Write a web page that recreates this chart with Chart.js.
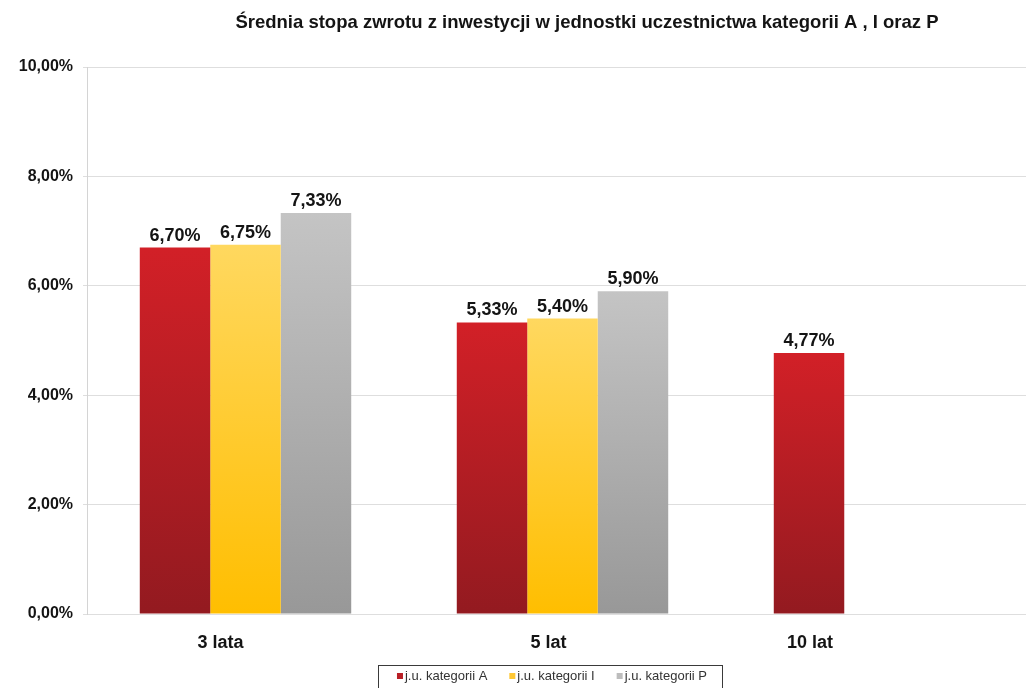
<!DOCTYPE html>
<html>
<head>
<meta charset="utf-8">
<script src="https://cdn.jsdelivr.net/npm/chart.js@4/dist/chart.umd.min.js"></script>
<style>
  html, body { margin: 0; padding: 0; background: #fff; overflow: hidden; }
  #wrap { width: 1026px; height: 688px; overflow: hidden; }
</style>
</head>
<body>
<div id="wrap"><canvas id="chart1" width="1038" height="688"></canvas></div>
<script>
// Average return per period, in percent
const categories = ['3 lata', '5 lat', '10 lat'];
const seriesA = [6.70, 5.33, 4.77];
const seriesI = [6.75, 5.40, null];
const seriesP = [7.33, 5.90, null];
const seriesNames = ['j.u. kategorii A', 'j.u. kategorii I', 'j.u. kategorii P'];
const yTickValues = [0, 2, 4, 6, 8, 10];

const title = 'Średnia stopa zwrotu z inwestycji w jednostki uczestnictwa kategorii A , I oraz P';
const FONT = '"Liberation Sans", Arial, sans-serif';

const pct = v => v.toFixed(2).replace('.', ',') + '%';

// vertical gradient per bar, light at the top, dark at the base
function barFill(top, bottom) {
  return function (c) {
    const chart = c.chart;
    const y = chart.scales && chart.scales.y;
    if (!chart.chartArea || !y || c.raw == null) return bottom;
    const yTop = y.getPixelForValue(c.raw);
    const yBase = y.getPixelForValue(0);
    const g = chart.ctx.createLinearGradient(0, yTop, 0, yBase);
    g.addColorStop(0, top);
    g.addColorStop(1, bottom);
    return g;
  };
}

const swatch = ['#B91F26', '#FFC733', '#BDBDBD'];

// nudges for the category captions under the groups
const captionShift = [-25, -14, 1];

const decorations = {
  id: 'decorations',
  afterDatasetsDraw(chart) {
    const ctx = chart.ctx;
    const area = chart.chartArea;
    ctx.save();

    // value labels above bars
    ctx.font = 'bold 18px ' + FONT;
    ctx.fillStyle = '#141414';
    ctx.textAlign = 'center';
    ctx.textBaseline = 'alphabetic';
    chart.data.datasets.forEach((ds, di) => {
      const meta = chart.getDatasetMeta(di);
      meta.data.forEach((bar, i) => {
        const v = ds.data[i];
        if (v == null) return;
        ctx.fillText(pct(v), bar.x, bar.y - 7);
      });
    });

    // category captions
    ctx.font = 'bold 18px ' + FONT;
    ctx.textBaseline = 'middle';
    categories.forEach((name, i) => {
      const xs = [];
      chart.data.datasets.forEach((ds, di) => {
        if (ds.data[i] != null) xs.push(chart.getDatasetMeta(di).data[i].x);
      });
      const cx = xs.reduce((a, b) => a + b, 0) / xs.length + captionShift[i];
      ctx.fillText(name, cx, area.bottom + 29);
    });

    // title
    ctx.font = 'bold 18.5px ' + FONT;
    ctx.textBaseline = 'alphabetic';
    ctx.fillText(title, 587, 28);

    // legend in a framed box
    ctx.font = '13px ' + FONT;
    ctx.textBaseline = 'middle';
    const box = 6, gap = 2, spacing = 22;
    const widths = seriesNames.map(n => ctx.measureText(n).width);
    const total = widths.reduce((a, w) => a + box + gap + w, 0) + spacing * (seriesNames.length - 1);
    const cx = 552;
    let x = cx - total / 2;
    const ly = 676;
    ctx.strokeStyle = '#3a3a3a';
    ctx.lineWidth = 1;
    ctx.strokeRect(378.5, 665.5, 344, 30);
    ctx.textAlign = 'left';
    seriesNames.forEach((n, i) => {
      ctx.fillStyle = swatch[i];
      ctx.fillRect(x, ly - 3, box, 6);
      ctx.fillStyle = '#333';
      ctx.fillText(n, x + box + gap, ly);
      x += box + gap + widths[i] + spacing;
    });

    ctx.restore();
  }
};

const data = {
  labels: categories,
  datasets: [
    { label: seriesNames[0], data: seriesA, backgroundColor: barFill('#D22027', '#931A20') },
    { label: seriesNames[1], data: seriesI, backgroundColor: barFill('#FFD85F', '#FFBE00') },
    { label: seriesNames[2], data: seriesP, backgroundColor: barFill('#C4C4C4', '#989898') }
  ]
};

const options = {
  responsive: false,
  animation: false,
  layout: { padding: { top: 67, left: 0, right: 0, bottom: 0 } },
  datasets: { bar: { categoryPercentage: 0.667, barPercentage: 1.0, borderWidth: 0 } },
  plugins: {
    legend: { display: false },
    title: { display: false },
    tooltip: { enabled: false }
  },
  scales: {
    x: {
      grid: { display: false },
      border: { display: false },
      ticks: { display: false },
      afterFit(scale) { scale.height = 74; }
    },
    y: {
      min: 0,
      max: 10,
      afterBuildTicks(scale) { scale.ticks = yTickValues.map(v => ({ value: v })); },
      ticks: {
        padding: 10,
        color: '#141414',
        font: { family: FONT, size: 16, weight: 'bold' },
        callback: v => pct(v)
      },
      grid: { color: '#dedede', tickLength: 4 },
      border: { color: '#d4d4d4' },
      afterFit(scale) { scale.width = 87; }
    }
  }
};

const ctx = document.getElementById('chart1').getContext('2d');
const myChart = new Chart(ctx, {
  type: 'bar',
  data: data,
  options: options,
  plugins: [decorations]
});
</script>
</body>
</html>
